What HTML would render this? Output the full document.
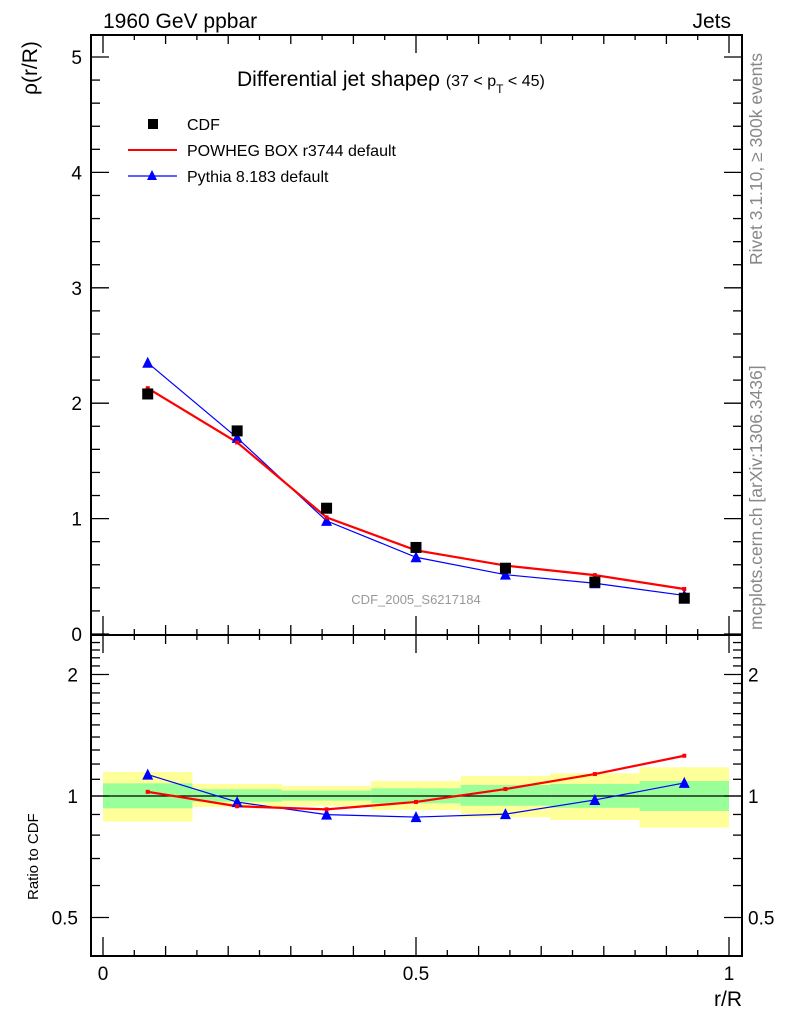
<!DOCTYPE html>
<html><head><meta charset="utf-8"><style>
body{margin:0;background:#fff;}
svg{display:block;font-family:"Liberation Sans",sans-serif;}
</style></head><body>
<svg id="c" width="786" height="1024" xmlns="http://www.w3.org/2000/svg">
<text x="103" y="28" font-size="21">1960 GeV ppbar</text>
<text x="731" y="28" font-size="21" text-anchor="end">Jets</text>
<text x="237" y="86" font-size="21">Differential jet shapeρ <tspan font-size="16">(37 &lt; p</tspan><tspan font-size="12" dy="7">T</tspan><tspan font-size="16" dy="-7"> &lt; 45)</tspan></text>
<text transform="translate(37,95) rotate(-90)" font-size="21" text-anchor="start">ρ(r/R)</text>
<text transform="translate(38,900) rotate(-90)" font-size="15">Ratio to CDF</text>
<text x="742" y="1006" font-size="21" text-anchor="end">r/R</text>
<text transform="translate(762,265) rotate(-90)" font-size="17.5" fill="#888">Rivet 3.1.10, ≥ 300k events</text>
<text transform="translate(762,630) rotate(-90)" font-size="17.5" fill="#888">mcplots.cern.ch [arXiv:1306.3436]</text>
<text x="416" y="604" font-size="13" fill="#999" text-anchor="middle">CDF_2005_S6217184</text>
<g id="bands"></g><g id="ticks"></g><g id="series"></g>
<rect x="91" y="35" width="651" height="600" fill="none" stroke="#000" stroke-width="2"/>
<rect x="91" y="635" width="651" height="321" fill="none" stroke="#000" stroke-width="2"/>
<g>
<rect x="148" y="119" width="10" height="10" fill="#000"/>
<text x="187" y="130" font-size="16">CDF</text>
<line x1="128" y1="150" x2="177" y2="150" stroke="red" stroke-width="2"/>
<text x="187" y="156" font-size="16">POWHEG BOX r3744 default</text>
<line x1="128" y1="176" x2="177" y2="176" stroke="blue" stroke-width="1.2"/>
<polygon points="152,170 147,180 157,180" fill="blue"/>
<text x="187" y="182" font-size="16">Pythia 8.183 default</text>
</g>
</svg>
<script>
const binEdges=[0,1/7,2/7,3/7,4/7,5/7,6/7,1];
const cdf=[2.08,1.76,1.09,0.75,0.57,0.45,0.31];
const powheg=[2.13,1.66,1.01,0.725,0.593,0.51,0.39];
const pythia=[2.35,1.70,0.98,0.665,0.514,0.44,0.334];
const yellowUp=[1.147,1.071,1.059,1.089,1.121,1.138,1.178];
const yellowDn=[0.864,0.939,0.946,0.923,0.886,0.872,0.835];
const greenUp=[1.075,1.039,1.031,1.045,1.065,1.071,1.089];
const greenDn=[0.932,0.968,0.974,0.959,0.946,0.935,0.918];
const mainTicks=[0,1,2,3,4,5];
const ratioTicks=[0.5,1,2];
const xTickLabels=[0,0.5,1];

const NS="http://www.w3.org/2000/svg";
const X=v=>103+v*626;
const Y=v=>634-v*115.4;
const R=v=>796-Math.log2(v)*121.5;
function mk(t,a,p){const e=document.createElementNS(NS,t);for(const k in a)e.setAttribute(k,a[k]);p.appendChild(e);return e;}
const bands=document.getElementById('bands'),ticks=document.getElementById('ticks'),ser=document.getElementById('series');
const mids=binEdges.slice(0,-1).map((e,i)=>(e+binEdges[i+1])/2);
for(let i=0;i<7;i++){
 const x0=X(binEdges[i]),w=X(binEdges[i+1])-x0;
 let r=mk('rect',{x:x0,y:R(yellowUp[i]),width:w,height:R(yellowDn[i])-R(yellowUp[i]),fill:'#ffff99'},bands);
 
 
 r=mk('rect',{x:x0,y:R(greenUp[i]),width:w,height:R(greenDn[i])-R(greenUp[i]),fill:'#99ff99'},bands);
 
 
}
let l=mk('line',{x1:91,x2:742,y1:R(1),y2:R(1),stroke:'#000','stroke-width':1.3},bands);


for(let k=0;k<=20;k++){const v=k*0.05,x=X(v);const len=k%10==0?18:(k%2==0?9:5);
 for(const [yb,dir] of [[634,-1],[35,1],[955,-1],[635,1]]){mk('line',{x1:x,x2:x,y1:yb,y2:yb+dir*len,stroke:'#000','stroke-width':1.3},ticks);}
}
xTickLabels.forEach(v=>{const t=mk('text',{x:X(v),y:980,'font-size':19,'text-anchor':'middle'},ticks);t.textContent=v;
 
 });
for(let k=0;k<=26;k++){const v=k*0.2,y=Y(v);if(y<36)continue;const len=k%5==0?18:9;
 mk('line',{x1:91,x2:91+len,y1:y,y2:y,stroke:'#000','stroke-width':1.3},ticks);
 mk('line',{x1:742,x2:742-len,y1:y,y2:y,stroke:'#000','stroke-width':1.3},ticks);}
mainTicks.forEach(v=>{const t=mk('text',{x:82,y:Y(v)+7,'font-size':19,'text-anchor':'end'},ticks);t.textContent=v;
 
 });
const minors=[0.4,0.5,0.6,0.7,0.8,0.9,1,1.1,1.2,1.3,1.4,1.5,1.6,1.7,1.8,1.9,2,2.1,2.2,2.3,2.4,2.5];
minors.forEach(v=>{const y=R(v);if(y>955||y<636)return;const len=ratioTicks.includes(v)?18:9;
 mk('line',{x1:91,x2:91+len,y1:y,y2:y,stroke:'#000','stroke-width':1.3},ticks);
 mk('line',{x1:742,x2:742-len,y1:y,y2:y,stroke:'#000','stroke-width':1.3},ticks);});
ratioTicks.forEach(v=>{for(const [x,a] of [[78,'end'],[748,'start']]){const t=mk('text',{x:x,y:R(v)+7,'font-size':19,'text-anchor':a},ticks);t.textContent=v==0.5?'0.5':v;
 
 }});
function line(vals,yf,color,w,name){const p=mk('polyline',{points:vals.map((v,i)=>X(mids[i])+','+yf(v)).join(' '),fill:'none',stroke:color,'stroke-width':w},ser);
 
 }
function tri(x,y,name){const p=mk('polygon',{points:`${x},${y-6} ${x-5.5},${y+5} ${x+5.5},${y+5}`,fill:'blue'},ser);
 
 }
function sq(x,y,s,c,name){const r=mk('rect',{x:x-s/2,y:y-s/2,width:s,height:s,fill:c},ser);
 
 }
line(pythia,Y,'blue',1.2,'pythia-line');
line(powheg,Y,'red',2.2,'powheg-line');
pythia.forEach((v,i)=>tri(X(mids[i]),Y(v),'pythia-point'));
powheg.forEach((v,i)=>sq(X(mids[i]),Y(v),4,'red','powheg-point'));
cdf.forEach((v,i)=>sq(X(mids[i]),Y(v),11,'#000','cdf-point'));
const pyR=pythia.map((v,i)=>v/cdf[i]),pwR=powheg.map((v,i)=>v/cdf[i]);
line(pyR,R,'blue',1.2,'pythia-ratio-line');
line(pwR,R,'red',2.2,'powheg-ratio-line');
pyR.forEach((v,i)=>tri(X(mids[i]),R(v),'pythia-ratio-point'));
pwR.forEach((v,i)=>sq(X(mids[i]),R(v),4,'red','powheg-ratio-point'));
</script>
</body></html>
